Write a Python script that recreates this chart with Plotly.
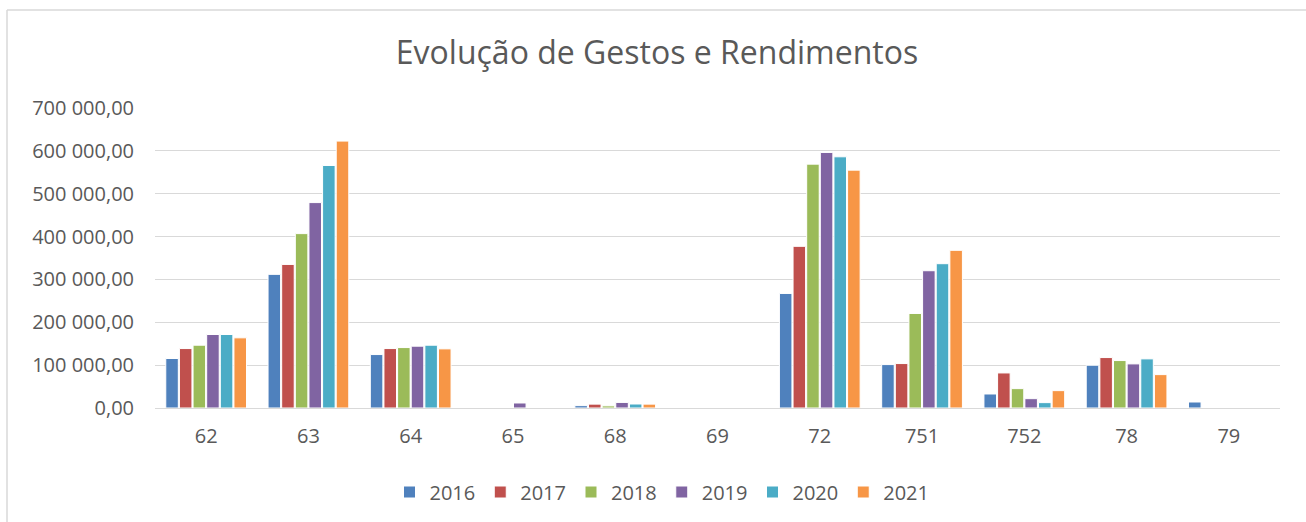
import plotly.graph_objects as go

categories = ["62", "63", "64", "65", "68", "69", "72", "751", "752", "78", "79"]
years = ["2016", "2017", "2018", "2019", "2020", "2021"]

v2016 = [115500, 311800, 124700, None, 5500, None, 267300, 101300, 32700, 99800, 14000]
v2017 = [138700, 335000, 138700, None, 9000, None, 377200, 103700, 81800, 117700, None]
v2018 = [146500, 406900, 141000, None, 5000, None, 569000, 220600, 45200, 110700, None]
v2019 = [171500, 479300, 144200, 11700, 13000, None, 596300, 320300, 21800, 102900, None]
v2020 = [171500, 565900, 146500, None, 9300, None, 586100, 336700, 12500, 114600, None]
v2021 = [163700, 622800, 138000, None, 9000, None, 555000, 367900, 40500, 77900, None]

series = [v2016, v2017, v2018, v2019, v2020, v2021]
colors = ["#4F81BD", "#C0504D", "#9BBB59", "#8064A2", "#4BACC6", "#F79646"]

fig = go.Figure()
for name, vals, col in zip(years, series, colors):
    fig.add_trace(go.Bar(
        x=categories, y=vals, name=name,
        marker=dict(color=col, line=dict(color="white", width=1)),
    ))

W, H = 1306, 522
L, R, T, B = 155, 1280, 108, 408
fig.update_layout(
    width=W, height=H,
    margin=dict(l=L, r=W - R, t=T, b=H - B, autoexpand=False),
    paper_bgcolor="white", plot_bgcolor="white",
    separators=", ",
    barmode="group", bargap=0.2, bargroupgap=0.08,
    font=dict(family="Open Sans", size=20, color="#595959"),
    title=dict(text="Evolução de Gestos e Rendimentos", xref="container", x=657 / W,
               xanchor="center", yref="container", y=1 - 53 / H, yanchor="middle",
               font=dict(family="Open Sans", size=32, color="#595959")),
    legend=dict(orientation="h", xref="container", x=662 / W, xanchor="center",
                yref="container", y=1 - 492 / H, yanchor="middle",
                font=dict(size=20, color="#595959"), itemwidth=30,
                traceorder="normal"),
    showlegend=True,
)
fig.update_yaxes(range=[0, 700000], dtick=100000, tickformat=",.2f",
                 showgrid=True, gridcolor="#D9D9D9", gridwidth=1,
                 zeroline=True, zerolinecolor="#D9D9D9", zerolinewidth=1,
                 showline=False, ticks="", ticklabelstandoff=20, fixedrange=True)
fig.update_xaxes(showgrid=False, showline=False, ticks="", ticklabelstandoff=14,
                 fixedrange=True)

# chart border (top and left visible)
fig.add_shape(type="line", xref="paper", yref="paper",
              x0=(7 - L) / (R - L), x1=(W + 5 - L) / (R - L),
              y0=(B - 10) / (B - T), y1=(B - 10) / (B - T),
              line=dict(color="#D9D9D9", width=1.5))
fig.add_shape(type="line", xref="paper", yref="paper",
              x0=(7 - L) / (R - L), x1=(7 - L) / (R - L),
              y0=(B - 10) / (B - T), y1=(B - H - 5) / (B - T),
              line=dict(color="#D9D9D9", width=1.5))

fig.write_html("out.html", post_script="document.body.style.margin='0';",
               config={"displayModeBar": False})
